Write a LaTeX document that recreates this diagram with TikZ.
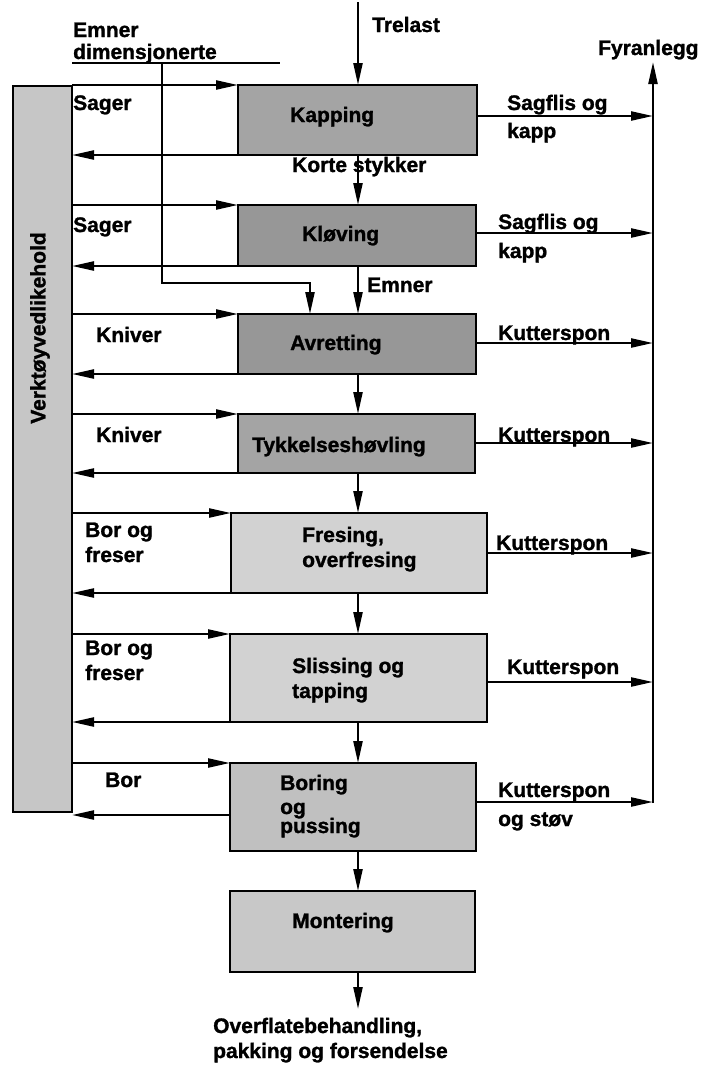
\documentclass[tikz,border=0pt]{standalone}
\usepackage{fontspec}
\setmainfont{Liberation Sans}[BoldFeatures={FakeBold=1.3}]
\usetikzlibrary{arrows.meta}
\definecolor{gA}{HTML}{A4A4A4}
\definecolor{gB}{HTML}{979797}
\definecolor{gC}{HTML}{D2D2D2}
\definecolor{gD}{HTML}{C0C0C0}
\definecolor{gE}{HTML}{C8C8C8}
\definecolor{gV}{HTML}{C6C6C6}
\begin{document}
\begin{tikzpicture}[x=1pt,y=-1pt,
  box/.style={draw, line width=2.8pt, inner sep=0pt, outer sep=0pt, anchor=north west},
  ln/.style={line width=2.3pt},
  arr/.style={line width=2.3pt, -{Triangle[length=22pt,width=9pt]}},
  txt/.style={anchor=base west, inner sep=0pt, font=\fontsize{21}{25}\selectfont\bfseries}]
\useasboundingbox (0,0) rectangle (701,1069);

% boxes
\node[box, fill=gV, minimum width=59pt, minimum height=726pt] (vk) at (13,86) {};
\node[box, fill=gA, minimum width=239pt, minimum height=70pt] (kap) at (238,85) {};
\node[box, fill=gB, minimum width=238pt, minimum height=61pt] (klo) at (238,205) {};
\node[box, fill=gB, minimum width=238pt, minimum height=60pt] (avr) at (238,314) {};
\node[box, fill=gA, minimum width=237pt, minimum height=59pt] (tyk) at (238,414) {};
\node[box, fill=gC, minimum width=256pt, minimum height=80pt] (fre) at (231,513) {};
\node[box, fill=gC, minimum width=257pt, minimum height=88pt] (sli) at (230,634) {};
\node[box, fill=gD, minimum width=246pt, minimum height=88pt] (bor) at (230,763) {};
\node[box, fill=gE, minimum width=245pt, minimum height=81pt] (mon) at (230,891) {};

% box texts
\node[rotate=90, inner sep=0pt, font=\fontsize{21}{25}\selectfont\bfseries] (vkt) at (40,328) {Verktøyvedlikehold};
\node[txt] (kapt) at (290,122) {Kapping};
\node[txt] (klot) at (302,241) {Kløving};
\node[txt] (avrt) at (290,350) {Avretting};
\node[txt] (tykt) at (252,452) {Tykkelseshøvling};
\node[txt] (fret1) at (302,542) {Fresing,};
\node[txt] (fret2) at (302,567) {overfresing};
\node[txt] (slit1) at (292,673) {Slissing og};
\node[txt] (slit2) at (292,698) {tapping};
\node[txt] (bort1) at (280,790) {Boring};
\node[txt] (bort2) at (280,814) {og};
\node[txt] (bort3) at (280,833) {pussing};
\node[txt] (mont) at (292,928) {Montering};

% coordinates
\coordinate (mx) at (358,0);
\coordinate (tr) at (358,2);
\coordinate (out) at (358,1009);
\coordinate (fyrB) at (653,803);
\coordinate (fyrT) at (653,62);
\coordinate (r1) at (653,116);
\coordinate (r2) at (653,233);
\coordinate (r3) at (653,343);
\coordinate (r4) at (653,443);
\coordinate (r5) at (653,553);
\coordinate (r6) at (653,682);
\coordinate (r7) at (653,802);
\coordinate (bret) at (72,815);
\coordinate (ed1) at (72,63);
\coordinate (ed2) at (280,63);
\coordinate (edj) at (162,63);
\coordinate (edk) at (310,283);

% main flow
\draw[arr] (tr) -- (kap.north -| tr);
\draw[arr] (kap.south -| mx) -- (klo.north -| mx);
\draw[arr] (klo.south -| mx) -- (avr.north -| mx);
\draw[arr] (avr.south -| mx) -- (tyk.north -| mx);
\draw[arr] (tyk.south -| mx) -- (fre.north -| mx);
\draw[arr] (fre.south -| mx) -- (sli.north -| mx);
\draw[arr] (sli.south -| mx) -- (bor.north -| mx);
\draw[arr] (bor.south -| mx) -- (mon.north -| mx);
\draw[arr] (mon.south -| out) -- (out);

% emner dimensjonerte
\draw[ln] (ed1) -- (ed2);
\draw[arr] (edj) |- (edk) -- (edk |- avr.north);

% tool loops
\draw[arr] (vk.east |- kap.north west) -- (kap.north west);
\draw[arr] (kap.south west) -- (kap.south west -| vk.east);
\draw[arr] (vk.east |- klo.north west) -- (klo.north west);
\draw[arr] (klo.south west) -- (klo.south west -| vk.east);
\draw[arr] (vk.east |- avr.north west) -- (avr.north west);
\draw[arr] (avr.south west) -- (avr.south west -| vk.east);
\draw[arr] (vk.east |- tyk.north west) -- (tyk.north west);
\draw[arr] (tyk.south west) -- (tyk.south west -| vk.east);
\draw[arr] (vk.east |- fre.north west) -- (fre.north west);
\draw[arr] (fre.south west) -- (fre.south west -| vk.east);
\draw[arr] (vk.east |- sli.north west) -- (sli.north west);
\draw[arr] (sli.south west) -- (sli.south west -| vk.east);
\draw[arr] (vk.east |- bor.north west) -- (bor.north west);
\draw[arr] (bret -| bor.west) -- (bret);

% waste to Fyranlegg
\draw[arr] (fyrB) -- (fyrT);
\draw[arr] (r1 -| kap.east) -- (r1);
\draw[arr] (r2 -| klo.east) -- (r2);
\draw[arr] (r3 -| avr.east) -- (r3);
\draw[arr] (r4 -| tyk.east) -- (r4);
\draw[arr] (r5 -| fre.east) -- (r5);
\draw[arr] (r6 -| sli.east) -- (r6);
\draw[arr] (r7 -| bor.east) -- (r7);

% labels
\node[txt] (l_emner) at (73,37) {Emner};
\node[txt] (l_dim) at (73,59) {dimensjonerte};
\node[txt] (l_tre) at (372,32) {Trelast};
\node[txt] (l_fyr) at (598,55) {Fyranlegg};
\node[txt] (l_sag1) at (73,110) {Sager};
\node[txt] (l_sag2) at (73,232) {Sager};
\node[txt] (l_kn1) at (96,342) {Kniver};
\node[txt] (l_kn2) at (96,442) {Kniver};
\node[txt] (l_bf1a) at (85,537) {Bor og};
\node[txt] (l_bf1b) at (85,562) {freser};
\node[txt] (l_bf2a) at (85,655) {Bor og};
\node[txt] (l_bf2b) at (85,680) {freser};
\node[txt] (l_bor) at (105,787) {Bor};
\node[txt] (l_korte) at (292,172) {Korte stykker};
\node[txt] (l_emn) at (367,292) {Emner};
\node[txt] (l_s1a) at (507,110) {Sagflis og};
\node[txt] (l_s1b) at (507,138) {kapp};
\node[txt] (l_s2a) at (498,229) {Sagflis og};
\node[txt] (l_s2b) at (498,258) {kapp};
\node[txt] (l_k3) at (498,340) {Kutterspon};
\node[txt] (l_k4) at (498,442) {Kutterspon};
\node[txt] (l_k5) at (496,550) {Kutterspon};
\node[txt] (l_k6) at (507,674) {Kutterspon};
\node[txt] (l_k7a) at (498,797) {Kutterspon};
\node[txt] (l_k7b) at (498,826) {og støv};
\node[txt] (l_ov1) at (213,1033) {Overflatebehandling,};
\node[txt] (l_ov2) at (213,1058) {pakking og forsendelse};
\end{tikzpicture}
\end{document}
